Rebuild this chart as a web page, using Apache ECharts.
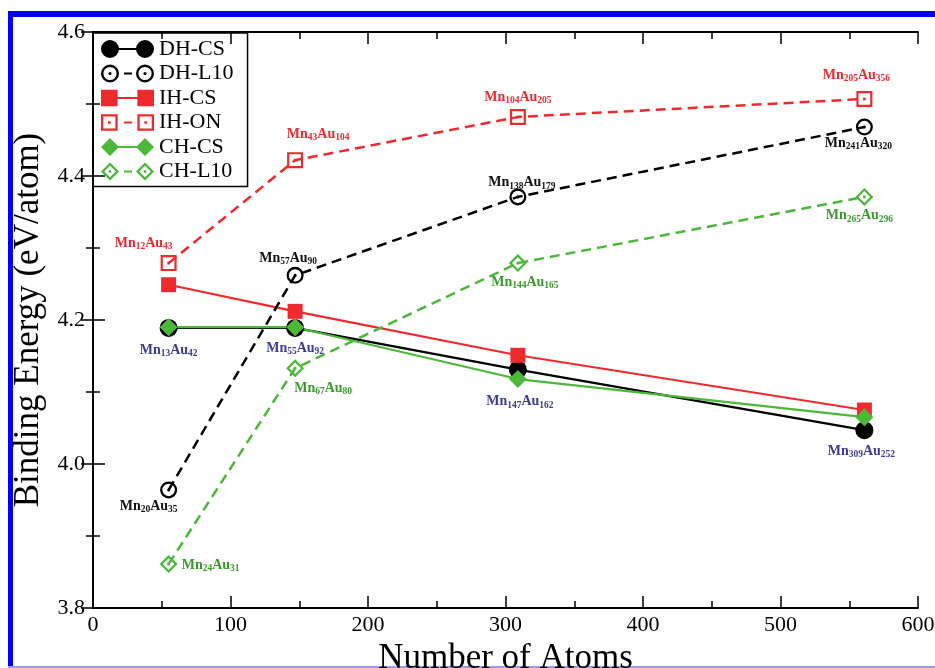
<!DOCTYPE html>
<html>
<head>
<meta charset="utf-8">
<title>Binding Energy vs Number of Atoms</title>
<script src="https://cdn.jsdelivr.net/npm/echarts@6/dist/echarts.min.js"></script>
<style>
  html, body { margin: 0; padding: 0; background: #fff; }
  #chart { width: 935px; height: 668px; }
</style>
</head>
<body>
<div id="chart"></div>
<script>
// 数据
var atoms = [55, 147, 309, 561];
var dhCS  = [4.189, 4.189, 4.131, 4.047];
var dhL10 = [3.964, 4.262, 4.371, 4.468];
var ihCS  = [4.249, 4.212, 4.151, 4.075];
var ihON  = [4.279, 4.422, 4.482, 4.507];
var chCS  = [4.190, 4.190, 4.118, 4.065];
var chL10 = [3.861, 4.133, 4.279, 4.371];

// 标注 (Mn, Au 下标)
var csNames   = [['13', '42'], ['55', '92'], ['147', '162'], ['309', '252']];
var dhL10Names = [['20', '35'], ['57', '90'], ['138', '179'], ['241', '320']];
var ihONNames  = [['12', '43'], ['43', '104'], ['104', '205'], ['205', '356']];
var chL10Names = [['24', '31'], ['67', '80'], ['144', '165'], ['265', '296']];

// 标注偏移
var csOffsets   = [[0, 22], [0, 20], [2, 32], [-3, 21]];
var dhL10Offsets = [[-20, 16], [-7, -17], [4, -14], [-6, 16]];
var ihONOffsets  = [[-25, -20], [23, -26], [0, -20], [-8, -24]];
var chL10Offsets = [[42, 1], [28, 20], [7, 19], [-5, 19]];

var yTicks = [3.8, 4.0, 4.2, 4.4, 4.6];

var RED = '#ee2a2f';
var GREEN = '#4cb83a';
var SERIF = '"Liberation Serif", "DejaVu Serif", serif';

var myChart = echarts.init(document.getElementById('chart'));

// 符号路径 (18x18 方框内)
function circlePath(cx, r, rev) {
    var s = rev ? 0 : 1;
    return 'M' + (cx - r) + ' 9 A' + r + ' ' + r + ' 0 1 ' + s + ' ' + (cx + r) + ' 9 A' + r + ' ' + r + ' 0 1 ' + s + ' ' + (cx - r) + ' 9 Z ';
}
function rectPath(x1, y1, x2, y2, rev) {
    if (rev) return 'M' + x1 + ' ' + y1 + ' L' + x1 + ' ' + y2 + ' L' + x2 + ' ' + y2 + ' L' + x2 + ' ' + y1 + ' Z ';
    return 'M' + x1 + ' ' + y1 + ' L' + x2 + ' ' + y1 + ' L' + x2 + ' ' + y2 + ' L' + x1 + ' ' + y2 + ' Z ';
}
function diamondPath(cx, h, rev) {
    if (rev) return 'M' + cx + ' ' + (9 - h) + ' L' + (cx - h) + ' 9 L' + cx + ' ' + (9 + h) + ' L' + (cx + h) + ' 9 Z ';
    return 'M' + cx + ' ' + (9 - h) + ' L' + (cx + h) + ' 9 L' + cx + ' ' + (9 + h) + ' L' + (cx - h) + ' 9 Z ';
}
function marker(kind, cx, empty) {
    var p;
    if (kind === 'circle') {
        p = circlePath(cx, 9, false);
        if (empty) p += circlePath(cx, 6.6, true) + circlePath(cx, 1.6, false);
    } else if (kind === 'rect') {
        p = rectPath(cx - 8, 1, cx + 8, 17, false);
        if (empty) p += rectPath(cx - 5.8, 3.2, cx + 5.8, 14.8, true) + rectPath(cx - 1.3, 7.7, cx + 1.3, 10.3, false);
    } else {
        p = diamondPath(cx, 9, false);
        if (empty) p += diamondPath(cx, 5.8, true) + rectPath(cx - 1.3, 7.7, cx + 1.3, 10.3, false);
    }
    return p;
}
function seriesSymbol(kind) {
    return 'path://' + marker(kind, 9, true);
}
function legendIcon(kind, empty) {
    var p = marker(kind, 9, empty) + marker(kind, 44, empty);
    if (empty) p += rectPath(23, 8, 31, 10, false);
    else p += rectPath(17, 8, 36, 10, false);
    return 'path://' + p;
}

function richLabel(color) {
    var base = { color: color, fontFamily: SERIF, fontWeight: 'bold' };
    return {
        m: Object.assign({ fontSize: 14, lineHeight: 17 }, base),
        s: Object.assign({ fontSize: 9.5, lineHeight: 17, verticalAlign: 'bottom' }, base)
    };
}

//生成带标注的数据
function buildData(values, names, offsets, color) {
    return values.map(function(v, i) {
        var item = { value: [atoms[i], v] };
        if (names) {
            item.label = {
                show: true,
                position: 'inside',
                offset: offsets[i],
                formatter: '{m|Mn}{s|' + names[i][0] + '}{m|Au}{s|' + names[i][1] + '}',
                rich: richLabel(color)
            };
        }
        return item;
    });
}

function lineSeries(name, values, color, dashed, symbol, size, names, offsets, labelColor) {
    return {
        name: name,
        type: 'line',
        data: buildData(values, names, offsets, labelColor),
        symbol: symbol,
        symbolSize: size,
        showAllSymbol: true,
        z: dashed ? 3 : 2,
        lineStyle: { color: color, width: dashed ? 2.5 : 2.2, type: dashed ? [10, 6] : 'solid' },
        itemStyle: { color: color, borderWidth: 0 },
        emphasis: { disabled: true },
        animation: false
    };
}

var tickStyle = {
    axisLine: { lineStyle: { color: '#000', width: 2 } },
    axisTick: { inside: true, length: 12, lineStyle: { color: '#000', width: 1.5 } },
    minorTick: { show: true, splitNumber: 2, length: 7, lineStyle: { color: '#000', width: 1.5 } },
    splitLine: { show: false }
};

var option = {
    backgroundColor: '#fff',
    graphic: [
        { type: 'line', shape: { x1: 8, y1: 14, x2: 935, y2: 14 }, style: { stroke: '#0000ff', lineWidth: 6 } },
        { type: 'line', shape: { x1: 10.5, y1: 11, x2: 10.5, y2: 668 }, style: { stroke: '#0000ff', lineWidth: 5 } },
        { type: 'line', shape: { x1: 8, y1: 667, x2: 935, y2: 667 }, style: { stroke: '#9a9af0', lineWidth: 2 } }
    ],
    grid: { left: 93, right: 17, top: 32, bottom: 60, containLabel: false, outerBoundsMode: 'none' },
    legend: {
        left: 93,
        top: 33,
        orient: 'vertical',
        itemWidth: 53,
        itemHeight: 18,
        itemGap: 2.5,
        padding: [5, 14, 4, 8],
        borderColor: '#000',
        borderWidth: 1.5,
        itemStyle: { borderWidth: 0 },
        textStyle: { fontFamily: SERIF, fontSize: 22, color: '#000' },
        data: [
            { name: 'DH-CS', icon: legendIcon('circle', false) },
            { name: 'DH-L10', icon: legendIcon('circle', true) },
            { name: 'IH-CS', icon: legendIcon('rect', false) },
            { name: 'IH-ON', icon: legendIcon('rect', true) },
            { name: 'CH-CS', icon: legendIcon('diamond', false) },
            { name: 'CH-L10', icon: legendIcon('diamond', true) }
        ],
        selectedMode: false
    },
    xAxis: [Object.assign({
        type: 'value',
        min: 0,
        max: 600,
        interval: 100,
        name: 'Number of Atoms',
        nameLocation: 'middle',
        nameGap: 27,
        nameTextStyle: { fontFamily: SERIF, fontSize: 35, color: '#000' },
        axisLabel: { fontFamily: SERIF, fontSize: 22, color: '#000', margin: 6 }
    }, tickStyle), Object.assign({
        type: 'value',
        position: 'top',
        min: 0,
        max: 600,
        interval: 100,
        axisLabel: { show: false }
    }, tickStyle)],
    yAxis: [Object.assign({
        type: 'value',
        min: yTicks[0],
        max: yTicks[yTicks.length - 1],
        interval: 0.2,
        name: 'Binding Energy (eV/atom)',
        nameLocation: 'middle',
        nameGap: 42,
        nameTextStyle: { fontFamily: SERIF, fontSize: 35, color: '#000' },
        axisLabel: {
            fontFamily: SERIF, fontSize: 22, color: '#000', margin: 8,
            formatter: function(v) { return v.toFixed(1); }
        }
    }, tickStyle), Object.assign({
        type: 'value',
        position: 'right',
        min: yTicks[0],
        max: yTicks[yTicks.length - 1],
        interval: 0.2,
        axisLabel: { show: false }
    }, tickStyle)],
    series: [
        lineSeries('DH-CS', dhCS, '#000', false, 'circle', 18, csNames, csOffsets, '#3b3c98'),
        lineSeries('DH-L10', dhL10, '#000', true, seriesSymbol('circle'), 17, dhL10Names, dhL10Offsets, '#111'),
        lineSeries('IH-CS', ihCS, RED, false, 'rect', 15, null, null, RED),
        lineSeries('IH-ON', ihON, RED, true, seriesSymbol('rect'), 16, ihONNames, ihONOffsets, RED),
        lineSeries('CH-CS', chCS, GREEN, false, 'diamond', 18, null, null, GREEN),
        lineSeries('CH-L10', chL10, GREEN, true, seriesSymbol('diamond'), 18, chL10Names, chL10Offsets, '#3a9a2c')
    ]
};

myChart.setOption(option);
</script>
</body>
</html>
